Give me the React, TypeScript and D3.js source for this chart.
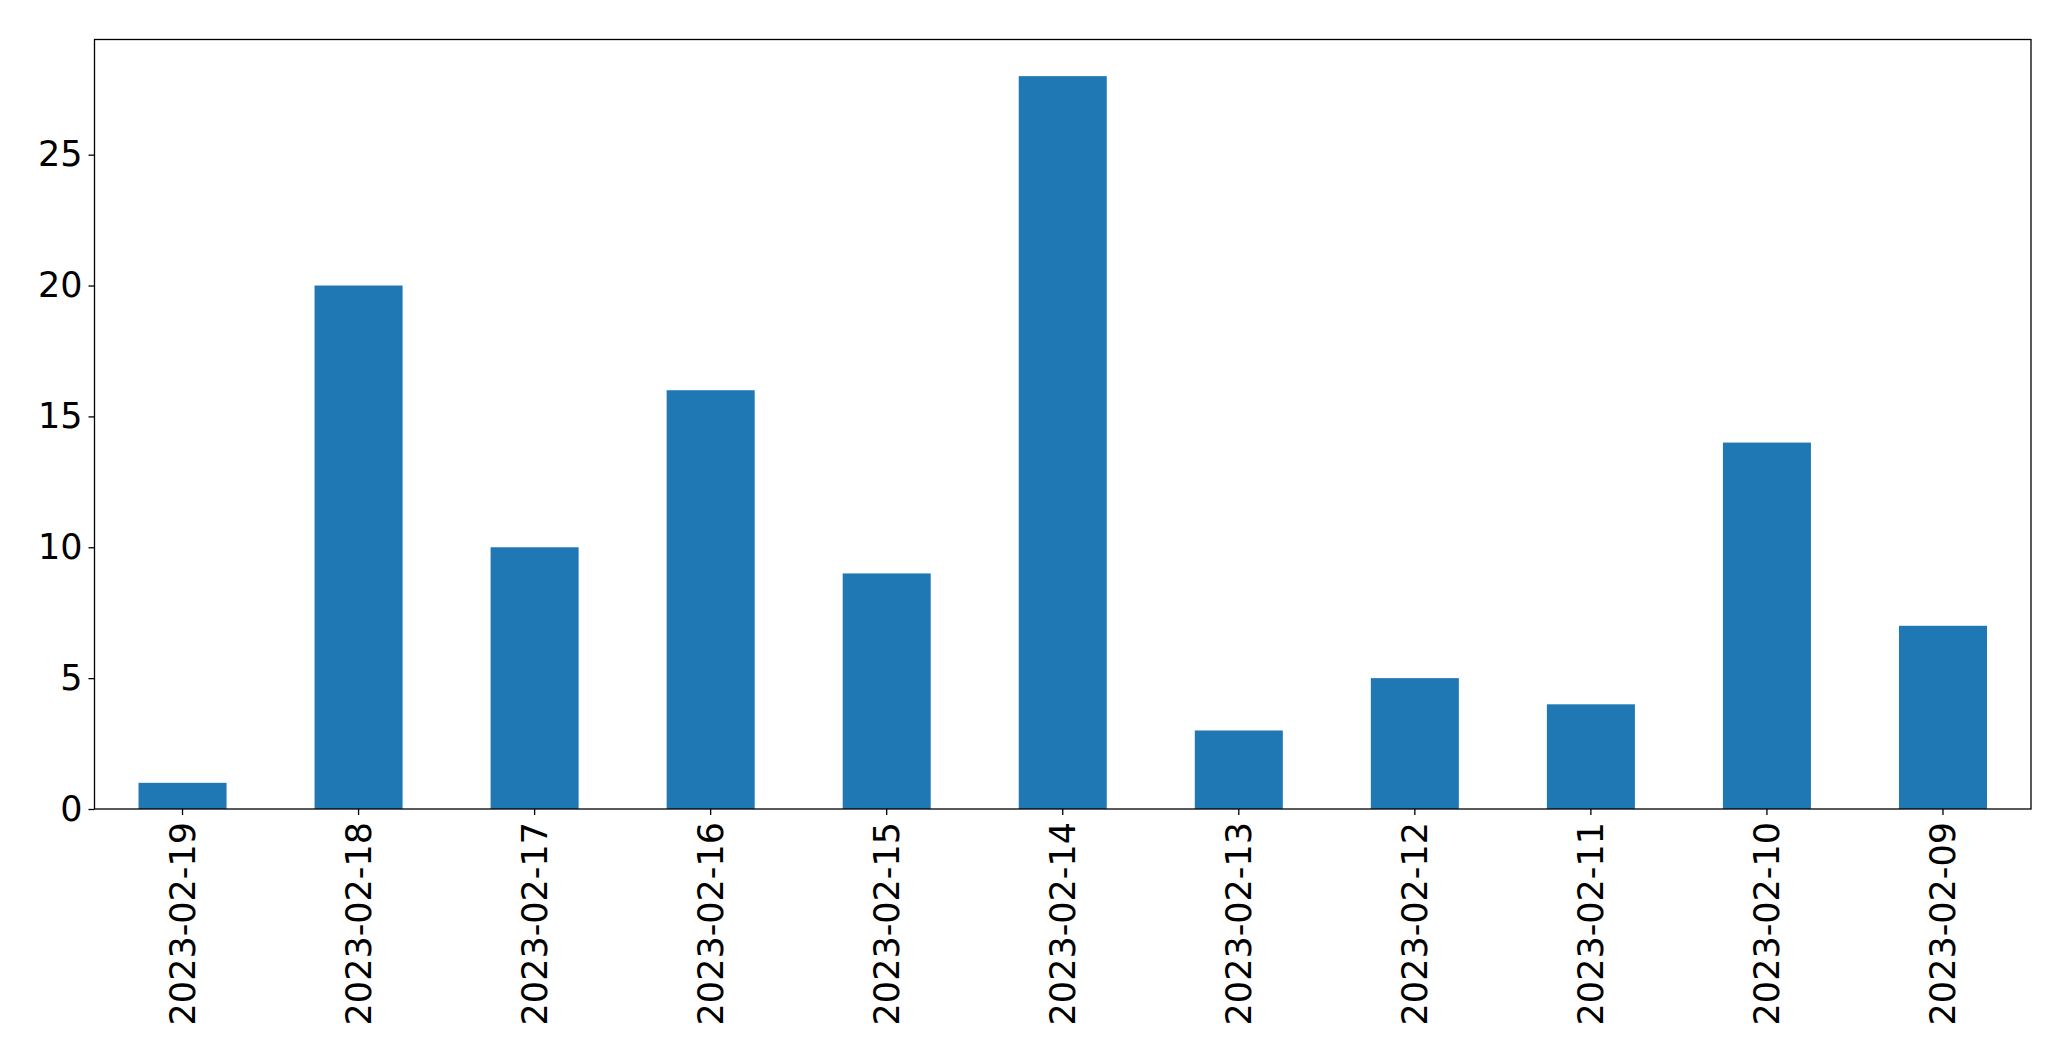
import React, { useEffect, useRef } from "react";
import * as d3 from "d3";

const dates = [
  "2023-02-19",
  "2023-02-18",
  "2023-02-17",
  "2023-02-16",
  "2023-02-15",
  "2023-02-14",
  "2023-02-13",
  "2023-02-12",
  "2023-02-11",
  "2023-02-10",
  "2023-02-09",
];
const counts = [1, 20, 10, 16, 9, 28, 3, 5, 4, 14, 7];
const yTicks = [0, 5, 10, 15, 20, 25];

const BarChart: React.FC = () => {
  const chartRef = useRef<HTMLDivElement>(null);

  useEffect(() => {
    document.body.style.margin = "0";
    const fullWidth = 2071,
      fullHeight = 1061;
    const margin = { top: 39.5, right: 40, bottom: 252, left: 94.5 },
      width = fullWidth - margin.left - margin.right,
      height = fullHeight - margin.top - margin.bottom;

    const root = d3.select(chartRef.current);
    root.selectAll("*").remove();

    const svg = root
      .append("svg")
      .attr("width", fullWidth)
      .attr("height", fullHeight)
      .style("display", "block")
      .append("g")
      .attr("transform", `translate(${margin.left}, ${margin.top})`);

    // X scale (pandas style: bars 0.5 wide, half-unit margins)
    const x = d3
      .scaleBand()
      .domain(dates)
      .range([0, width])
      .paddingInner(0.5)
      .paddingOuter(0.25);

    // Y scale with 5% headroom
    const y = d3
      .scaleLinear()
      .domain([0, (d3.max(counts) as number) * 1.05])
      .range([height, 0]);

    // Bars
    svg
      .selectAll("rect.bar")
      .data(dates)
      .enter()
      .append("rect")
      .attr("class", "bar")
      .attr("x", (d) => x(d)!)
      .attr("y", (_, i) => y(counts[i]))
      .attr("width", x.bandwidth())
      .attr("height", (_, i) => height - y(counts[i]))
      .attr("fill", "#1f77b4");

    const font = "'DejaVu Sans', sans-serif";

    // X axis
    const xAxis = svg
      .append("g")
      .attr("transform", `translate(0,${height})`)
      .call(d3.axisBottom(x).tickSize(6).tickSizeOuter(0));
    xAxis.select(".domain").remove();
    xAxis.selectAll(".tick line").attr("stroke", "#000").attr("stroke-width", 1.3);
    xAxis
      .selectAll(".tick text")
      .attr("font-family", font)
      .attr("font-size", 35)
      .attr("fill", "#000")
      .attr("transform", "rotate(-90)")
      .attr("text-anchor", "end")
      .attr("x", -13)
      .attr("y", 0)
      .attr("dy", "0.35em");

    // Y axis
    const yAxis = svg
      .append("g")
      .call(d3.axisLeft(y).tickValues(yTicks).tickSize(6).tickPadding(6));
    yAxis.select(".domain").remove();
    yAxis.selectAll(".tick line").attr("stroke", "#000").attr("stroke-width", 1.3);
    yAxis
      .selectAll(".tick text")
      .attr("font-family", font)
      .attr("font-size", 35)
      .attr("fill", "#000");

    // Frame
    svg
      .append("rect")
      .attr("x", 0)
      .attr("y", 0)
      .attr("width", width)
      .attr("height", height)
      .attr("fill", "none")
      .attr("stroke", "#000")
      .attr("stroke-width", 1.3);
  }, []);

  return <div ref={chartRef}></div>;
};

export default function App() {
  return <BarChart />;
}
